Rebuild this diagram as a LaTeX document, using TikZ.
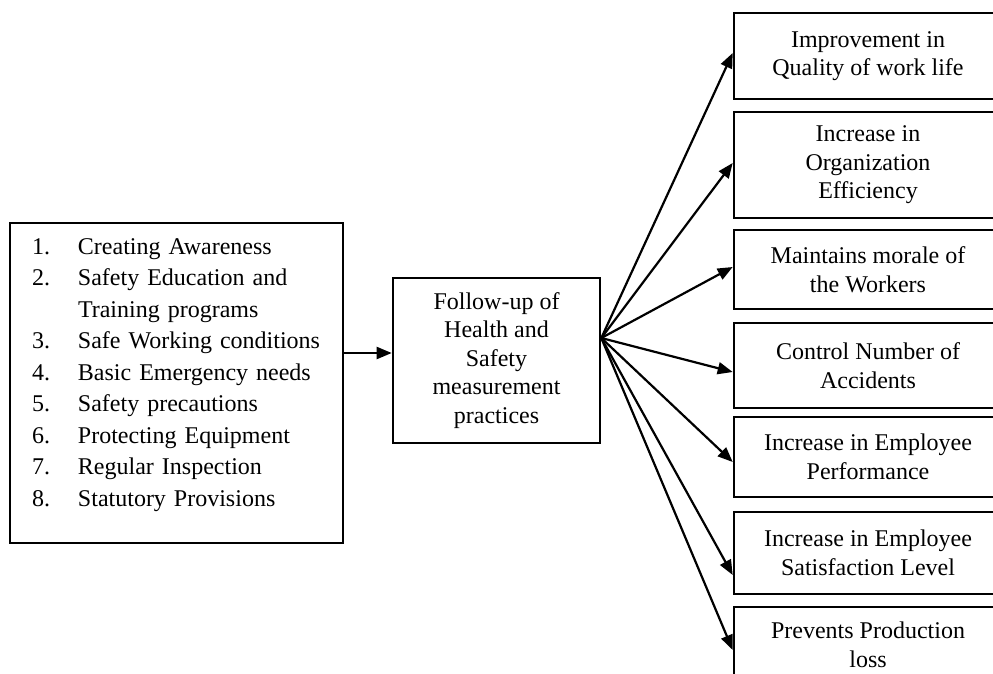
\documentclass[tikz,border=0pt]{standalone}
\usepackage{fontspec}
\setmainfont{Liberation Serif}
\usetikzlibrary{arrows.meta}
\begin{document}
\begin{tikzpicture}[x=1pt,y=-1pt,
  box/.style={draw,line width=2.6pt,inner sep=0pt,align=center,font=\fontsize{24}{28.5}\selectfont},
  rbox/.style={box,minimum width=268pt},
  arr/.style={line width=2.2pt,-{Triangle[length=15pt,width=12pt]}}]
\clip (0,0) rectangle (993,673);
\fill[white] (0,0) rectangle (993,673);
% left box
\node[box, inner xsep=22pt, text width=289pt, align=left, minimum height=320pt] (left) at (176.5,383)
{\fontsize{24}{31.5}\selectfont\begin{tabular}{@{}p{46pt}@{}l@{}}
1. & Creating Awareness\\
2. & Safety Education and\\
   & Training programs\\
3. & Safe Working conditions\\
4. & Basic Emergency needs\\
5. & Safety precautions\\
6. & Protecting Equipment\\
7. & Regular Inspection\\
8. & Statutory Provisions\\[18pt]
\end{tabular}};
% middle box
\node[box, minimum width=207pt, minimum height=165pt] (mid) at (496.5,360.5)
{Follow-up of\\Health and\\Safety\\measurement\\practices};
% right boxes
\node[rbox, minimum height=86pt] (r1) at (868,56) {Improvement in\\Quality of work life};
\node[rbox, minimum height=106pt] (r2) at (868,165) {Increase in\\Organization\\Efficiency};
\node[rbox, minimum height=79pt] (r3) at (868,269.5) {Maintains morale of\\the Workers};
\node[rbox, minimum height=85pt] (r4) at (868,365.5) {Control Number of\\Accidents};
\node[rbox, minimum height=80pt] (r5) at (868,457) {Increase in Employee\\Performance};
\node[rbox, minimum height=82pt] (r6) at (868,553) {Increase in Employee\\Satisfaction Level};
\node[rbox, minimum height=76pt] (r7) at (868,645) {Prevents Production\\loss};
% connectors
\coordinate (m) at ([yshift=7.5pt]mid.west);
\draw[arr] (left.east |- m) -- (m);
\coordinate (f) at ([yshift=22.5pt]mid.east);
\draw[arr] (f) -- ([yshift=3pt]r1.west);
\draw[arr] (f) -- ([yshift=2pt]r2.west);
\draw[arr] (f) -- ([yshift=2.5pt]r3.west);
\draw[arr] (f) -- ([yshift=-6.5pt]r4.west);
\draw[arr] (f) -- ([yshift=-5pt]r5.west);
\draw[arr] (f) -- ([yshift=-22pt]r6.west);
\draw[arr] (f) -- ([yshift=-5pt]r7.west);
\end{tikzpicture}
\end{document}
